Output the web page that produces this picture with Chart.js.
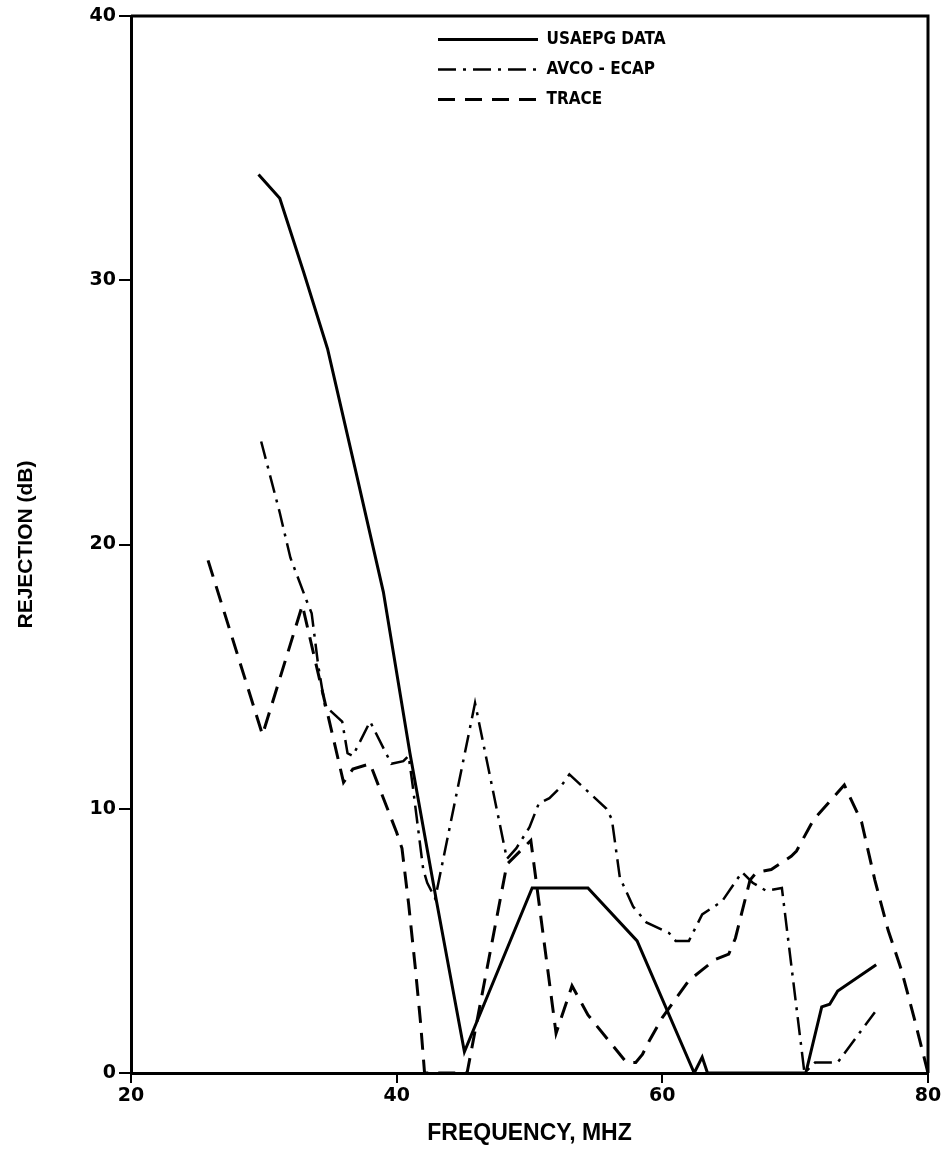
<!DOCTYPE html>
<html>
<head>
<meta charset="utf-8">
<script src="https://cdn.jsdelivr.net/npm/chart.js@4.4.1/dist/chart.umd.min.js"></script>
<style>
  html, body { margin: 0; padding: 0; background: #fff; }
  #wrap { width: 949px; height: 1159px; }
</style>
</head>
<body>
<div id="wrap"><canvas id="c" width="949" height="1159"></canvas></div>
<script>
// ---- data ----
const xTicks = [20, 40, 60, 80];
const yTicks = [0, 10, 20, 30, 40];

const seriesNames = ['USAEPG DATA', 'AVCO - ECAP', 'TRACE'];

const usaepgFreq = [29.6, 31.2, 33.0, 34.8, 37.0, 39.0, 41.0, 43.0, 45.1, 50.2, 54.4, 58.1, 62.4, 63.0, 63.4, 70.8, 72.0, 72.6, 73.2, 76.1];
const usaepgRej  = [34.0, 33.1, 30.3, 27.4, 22.6, 18.2, 12.1, 6.5, 0.8, 7.0, 7.0, 5.0, 0.0, 0.6, 0.0, 0.0, 2.5, 2.6, 3.1, 4.1];

const avcoFreq = [29.8, 31.2, 32.0, 33.2, 33.6, 34.1, 34.6, 35.9, 36.3, 36.7, 38.0, 39.6, 40.5, 40.9, 41.2, 41.6, 42.0, 42.3, 42.9, 45.9, 48.3, 49.0, 50.0, 50.7, 51.5, 52.3, 53.0, 55.8, 56.2, 56.8, 57.8, 58.8, 60.5, 61.0, 62.0, 63.0, 64.5, 66.0, 66.8, 67.8, 69.0, 70.7, 71.5, 73.2, 76.0];
const avcoRej  = [23.9, 21.2, 19.5, 17.9, 17.4, 15.4, 13.9, 13.3, 12.1, 12.0, 13.3, 11.7, 11.8, 12.0, 10.9, 9.3, 7.7, 7.2, 6.6, 14.0, 8.1, 8.5, 9.3, 10.2, 10.4, 10.8, 11.3, 10.0, 9.6, 7.4, 6.3, 5.7, 5.3, 5.0, 5.0, 6.0, 6.5, 7.6, 7.2, 6.9, 7.0, 0.0, 0.4, 0.4, 2.3];

const traceFreq = [25.8, 29.9, 32.9, 36.0, 36.7, 38.0, 39.0, 40.0, 40.4, 40.9, 41.4, 41.8, 42.1, 45.3, 48.3, 50.1, 52.0, 53.2, 54.4, 56.0, 57.3, 58.0, 58.5, 59.0, 60.0, 61.0, 62.0, 63.0, 64.0, 65.0, 65.5, 66.6, 67.1, 68.2, 69.7, 70.1, 71.4, 72.3, 73.7, 75.0, 76.0, 77.0, 78.0, 79.0, 80.0];
const traceRej  = [19.4, 12.8, 17.7, 11.0, 11.5, 11.7, 10.4, 9.1, 8.5, 6.4, 4.0, 1.9, 0.0, 0.0, 7.9, 8.8, 1.5, 3.3, 2.2, 1.2, 0.4, 0.4, 0.7, 1.2, 2.1, 2.8, 3.5, 3.9, 4.3, 4.5, 5.1, 7.3, 7.6, 7.7, 8.2, 8.4, 9.6, 10.1, 10.9, 9.5, 7.3, 5.4, 3.9, 2.0, 0.0];

const xTitle = 'FREQUENCY, MHZ';
const yTitle = 'REJECTION (dB)';

// ---- build ----
function pts(xs, ys) { return xs.map((x, i) => ({ x: x, y: ys[i] })); }

const TICK_FONT = { family: "'DejaVu Sans', 'Liberation Sans', sans-serif", size: 19, weight: 'bold' };
const NARROW = "'Liberation Sans Narrow', 'DejaVu Sans Condensed', 'Liberation Sans', sans-serif";
const WIDE = "'Liberation Sans', Arial, sans-serif";

const framePlugin = {
  id: 'frame',
  afterLayout(chart) {
    const lg = chart.legend;
    if (lg) {
      lg.left = 425; lg.top = 18;
      lg.right = lg.left + 400; lg.bottom = lg.top + 300;
      lg.width = 400; lg.height = 300;
    }
  },
  afterDraw(chart) {
    const a = chart.chartArea, ctx = chart.ctx;
    ctx.save();
    ctx.strokeStyle = '#000';
    ctx.lineWidth = 3;
    ctx.beginPath();
    ctx.moveTo(a.left, a.top);
    ctx.lineTo(a.right, a.top);
    ctx.lineTo(a.right, a.bottom);
    ctx.stroke();
    ctx.restore();
  }
};

Chart.defaults.color = '#000';

new Chart(document.getElementById('c'), {
  type: 'line',
  data: {
    datasets: [
      { label: seriesNames[0], data: pts(usaepgFreq, usaepgRej), borderColor: '#000', borderWidth: 3, borderDash: [], pointRadius: 0, tension: 0, fill: false },
      { label: seriesNames[1], data: pts(avcoFreq, avcoRej), borderColor: '#000', borderWidth: 2.5, borderDash: [18, 7, 3, 7], pointRadius: 0, tension: 0, fill: false },
      { label: seriesNames[2], data: pts(traceFreq, traceRej), borderColor: '#000', borderWidth: 3, borderDash: [17, 10], pointRadius: 0, tension: 0, fill: false }
    ]
  },
  options: {
    responsive: false,
    animation: false,
    devicePixelRatio: 1,
    layout: { padding: { left: 0, top: 16, right: 21, bottom: 0 } },
    plugins: {
      tooltip: { enabled: false },
      legend: {
        position: 'chartArea',
        align: 'start',
        labels: {
          usePointStyle: true,
          pointStyle: 'line',
          pointStyleWidth: 100,
          padding: 13,
          color: '#000',
          font: { family: NARROW, size: 17, weight: 'bold' },
          generateLabels(chart) {
            const items = Chart.defaults.plugins.legend.labels.generateLabels(chart);
            items.forEach(it => {
              const ds = chart.data.datasets[it.datasetIndex];
              it.lineDash = ds.borderDash;
              it.lineWidth = ds.borderWidth;
              it.strokeStyle = ds.borderColor;
              it.pointStyle = 'line';
            });
            return items;
          }
        }
      }
    },
    scales: {
      x: {
        type: 'linear',
        min: 20, max: 80,
        afterBuildTicks(s) { s.ticks = xTicks.map(v => ({ value: v })); },
        afterFit(s) { s.height = 86; },
        ticks: { font: TICK_FONT, color: '#000', padding: 2, maxRotation: 0 },
        grid: { drawOnChartArea: false, drawTicks: true, tickLength: 10, color: '#000', lineWidth: 2 },
        border: { display: true, color: '#000', width: 3 },
        title: { display: true, text: xTitle, font: { family: WIDE, size: 23, weight: 'bold' }, color: '#000', padding: { top: 0, bottom: 12 } }
      },
      y: {
        type: 'linear',
        min: 0, max: 40,
        afterBuildTicks(s) { s.ticks = yTicks.map(v => ({ value: v })); },
        afterFit(s) { s.width = 131; },
        ticks: { font: TICK_FONT, color: '#000', padding: 3 },
        grid: { drawOnChartArea: false, drawTicks: true, tickLength: 12, color: '#000', lineWidth: 2 },
        border: { display: true, color: '#000', width: 3 },
        title: { display: true, text: yTitle, font: { family: WIDE, size: 21, weight: 'bold' }, color: '#000', padding: { top: 14, bottom: 0 } }
      }
    }
  },
  plugins: [framePlugin]
});
</script>
</body>
</html>
